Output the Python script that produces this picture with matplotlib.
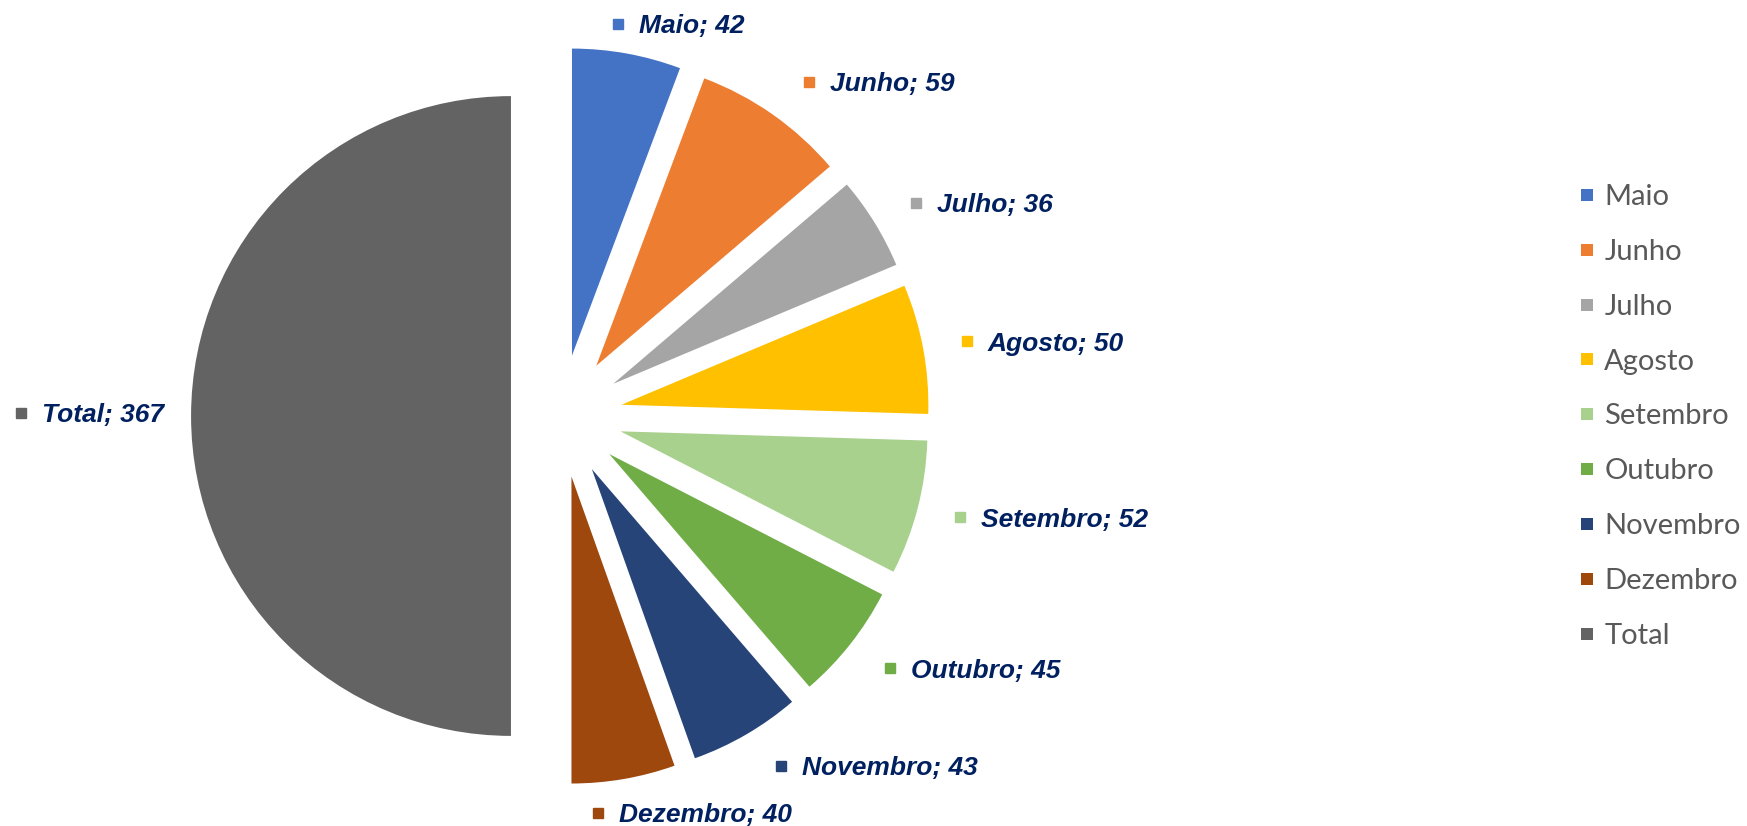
import matplotlib
matplotlib.use("Agg")
import matplotlib.pyplot as plt
from matplotlib.lines import Line2D

# ---- data ----
categories = ["Maio", "Junho", "Julho", "Agosto", "Setembro", "Outubro",
              "Novembro", "Dezembro", "Total"]
values = [42, 59, 36, 50, 52, 45, 43, 40, 367]
colors = ["#4472C4", "#ED7D31", "#A5A5A5", "#FFC000", "#A9D18E", "#70AD47",
          "#264478", "#9E480E", "#636363"]

# ---- layout (in units of pie radius) ----
explode = [0.20] * 8 + [0.163]
total_radius = 1.042
label_pos = [(0.186, 1.277), (0.808, 1.088), (1.156, 0.694), (1.322, 0.244),
             (1.300, -0.329), (1.072, -0.821), (0.717, -1.140), (0.121, -1.293),
             (-1.759, 0.010)]

W, H = 1747, 826
cx, cy, R = 561, 416, 307  # pixel center & radius

fig = plt.figure(figsize=(W / 100, H / 100), dpi=100)
ax = fig.add_axes([0, 0, 1, 1])

wedges, _ = ax.pie(values, colors=colors, explode=explode, startangle=90,
                   counterclock=False, wedgeprops=dict(linewidth=0))
wedges[-1].set_radius(total_radius)

ax.set_xlim(-cx / R, (W - cx) / R)
ax.set_ylim(-(H - cy) / R, cy / R)
ax.set_aspect("equal")
ax.axis("off")

label_color = "#002060"
for cat, val, col, (x, y) in zip(categories, values, colors, label_pos):
    ax.plot(x, y, marker="s", markersize=6.5, color=col, linestyle="none")
    ax.annotate(f"{cat}; {val}", xy=(x, y), xytext=(15, 0),
                textcoords="offset points", ha="left", va="center_baseline",
                fontsize=19, fontweight="bold", fontstyle="italic",
                family="Liberation Sans", color=label_color)

handles = [Line2D([0], [0], marker="s", linestyle="none", markersize=8.6,
                  markerfacecolor=c, markeredgewidth=0) for c in colors]
leg = fig.legend(handles, categories, loc="upper left",
                 bbox_to_anchor=(1578 / W, 1 - 184 / H),
                 bbox_transform=fig.transFigure, frameon=False,
                 prop=dict(family="Lato", size=21), labelcolor="#595959",
                 handlelength=0.6, handletextpad=0.3, labelspacing=0.99,
                 borderpad=0, borderaxespad=0)

fig.savefig("out.png", dpi=100, facecolor="white")
